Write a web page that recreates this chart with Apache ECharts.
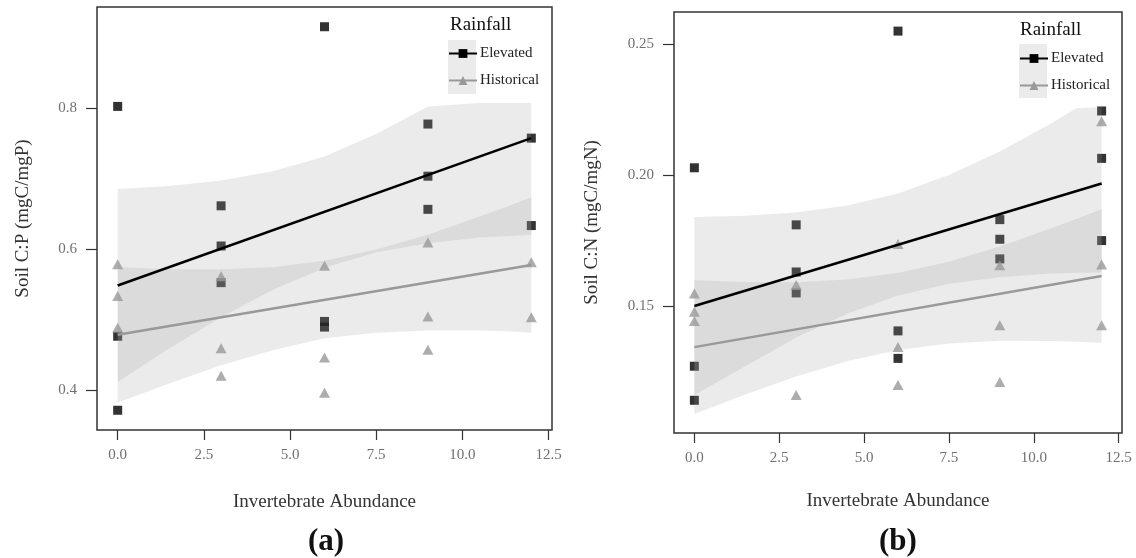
<!DOCTYPE html>
<html>
<head>
<meta charset="utf-8">
<script src="https://cdn.jsdelivr.net/npm/echarts@6/dist/echarts.min.js"></script>
<style>
  html, body { margin: 0; padding: 0; background: #fff; }
  #chart { width: 1136px; height: 558px; }
</style>
</head>
<body>
<div id="chart"></div>
<script>
// tick labels
const xTicks = [0, 2.5, 5, 7.5, 10, 12.5];
const cpTicks = [0.4, 0.6, 0.8];
const cnTicks = [0.15, 0.20, 0.25];

// (a) soil C:P points, [abundance, value]
const cpElevated = [[0, 0.802], [0, 0.476], [0, 0.371], [3, 0.661], [3, 0.604], [3, 0.552],
  [6, 0.915], [6, 0.497], [6, 0.489], [9, 0.777], [9, 0.703], [9, 0.656], [12, 0.757], [12, 0.633]];
const cpHistorical = [[0, 0.578], [0, 0.533], [0, 0.488], [3, 0.561], [3, 0.459], [3, 0.420],
  [6, 0.576], [6, 0.446], [6, 0.396], [9, 0.609], [9, 0.504], [9, 0.457], [12, 0.581], [12, 0.503]];

// (b) soil C:N points
const cnElevated = [[0, 0.2028], [0, 0.127], [0, 0.114], [3, 0.181], [3, 0.163], [3, 0.155],
  [6, 0.255], [6, 0.1405], [6, 0.130], [9, 0.183], [9, 0.1755], [9, 0.168],
  [12, 0.2245], [12, 0.2064], [12, 0.175]];
const cnHistorical = [[0, 0.1548], [0, 0.1478], [0, 0.1443], [3, 0.158], [3, 0.116],
  [6, 0.1737], [6, 0.1343], [6, 0.1198], [9, 0.1656], [9, 0.1427], [9, 0.121],
  [12, 0.2206], [12, 0.1659], [12, 0.1427]];

// fitted lines (ends)
const cpElevatedFit = [[0, 0.548], [12, 0.757]];
const cpHistoricalFit = [[0, 0.478], [12, 0.577]];
const cnElevatedFit = [[0, 0.150], [12, 0.1968]];
const cnHistoricalFit = [[0, 0.1343], [12, 0.1615]];

// confidence bands, read at these abundances
const bandX = [0, 1.5, 3, 4.5, 6, 7.5, 9, 10.5, 11.25, 12];
const cpElevatedLo = [0.411, 0.459, 0.503, 0.542, 0.573, 0.595, 0.608, 0.616, 0.618, 0.620];
const cpElevatedHi = [0.685, 0.689, 0.697, 0.710, 0.731, 0.763, 0.802, 0.807, 0.807, 0.807];
const cpHistoricalLo = [0.382, 0.409, 0.435, 0.456, 0.473, 0.481, 0.484, 0.484, 0.483, 0.481];
const cpHistoricalHi = [0.574, 0.571, 0.571, 0.574, 0.583, 0.599, 0.620, 0.646, 0.659, 0.673];
const cnElevatedLo = [0.116, 0.127, 0.138, 0.147, 0.154, 0.1585, 0.161, 0.1624, 0.1627, 0.1628];
const cnElevatedHi = [0.184, 0.1845, 0.1857, 0.1884, 0.193, 0.200, 0.209, 0.2196, 0.2255, 0.226];
const cnHistoricalLo = [0.1088, 0.1162, 0.1231, 0.1289, 0.1332, 0.1357, 0.1367, 0.1366, 0.1364, 0.136];
const cnHistoricalHi = [0.1598, 0.1592, 0.1591, 0.1601, 0.1626, 0.1669, 0.1727, 0.1796, 0.1832, 0.187];

const FONT = 'Liberation Serif';
const chart = echarts.init(document.getElementById('chart'));

function xAxis(gi, gap) {
  return {
    type: 'value', gridIndex: gi, min: -0.6, max: 12.6,
    axisLine: { show: false, onZero: false },
    axisTick: { show: true, length: 10, customValues: xTicks, lineStyle: { color: '#333', width: 1.2 } },
    axisLabel: { customValues: xTicks, formatter: v => v.toFixed(1), margin: 18,
      color: '#707070', fontSize: 15, fontFamily: FONT },
    splitLine: { show: false },
    name: 'Invertebrate Abundance', nameLocation: 'middle', nameGap: gap,
    nameTextStyle: { color: '#333', fontSize: 19, fontFamily: FONT }
  };
}

function yAxis(gi, min, max, ticks, digits, title, gap) {
  return {
    type: 'value', gridIndex: gi, min: min, max: max,
    axisLine: { show: false, onZero: false },
    axisTick: { show: true, length: 11, customValues: ticks, lineStyle: { color: '#333', width: 1.2 } },
    axisLabel: { customValues: ticks, formatter: v => v.toFixed(digits), margin: 20,
      color: '#707070', fontSize: 15, fontFamily: FONT },
    splitLine: { show: false },
    name: title, nameLocation: 'middle', nameGap: gap, nameRotate: 90,
    nameTextStyle: { color: '#333', fontSize: 19, fontFamily: FONT }
  };
}

function points(gi, data, shape) {
  const square = shape === 'rect';
  return {
    type: 'scatter', xAxisIndex: gi, yAxisIndex: gi, data: data, z: 2, silent: true,
    symbol: shape, symbolSize: square ? 9 : [11, 10],
    itemStyle: { color: square ? '#000' : '#999' }
  };
}

function band(gi, lo, hi) {
  return {
    type: 'custom', xAxisIndex: gi, yAxisIndex: gi, z: 3, silent: true,
    data: bandX.map((x, i) => [x, lo[i], hi[i]]),
    encode: { x: 0, y: [1, 2] },
    renderItem: function (params, api) {
      if (params.dataIndex !== 0) return null;
      const pts = [];
      for (let i = 0; i < bandX.length; i++) pts.push(api.coord([bandX[i], hi[i]]));
      for (let i = bandX.length - 1; i >= 0; i--) pts.push(api.coord([bandX[i], lo[i]]));
      return { type: 'polygon', shape: { points: pts }, style: { fill: 'rgba(153,153,153,0.2)' } };
    }
  };
}

function fit(gi, name, data, color, shape) {
  return {
    type: 'line', name: name, xAxisIndex: gi, yAxisIndex: gi, data: data, z: 4, silent: true,
    symbol: shape, showSymbol: false,
    lineStyle: { color: color, width: 2.5 }, itemStyle: { color: color }
  };
}

function legend(left, top) {
  return {
    left: left, top: top, orient: 'vertical', data: ['Elevated', 'Historical'],
    padding: 0, itemWidth: 28, itemHeight: 11, itemGap: 12, selectedMode: false,
    textStyle: { fontFamily: FONT, fontSize: 15, color: '#222', padding: [0, 0, 0, -2] }
  };
}

function text(left, top, str, size, bold) {
  return {
    type: 'text', left: left, top: top,
    style: { text: str, fill: '#111', font: (bold ? 'bold ' : '') + size + 'px "' + FONT + '"' }
  };
}

const option = {
  animation: false,
  backgroundColor: '#fff',
  grid: [
    { left: 97, top: 7, width: 455, height: 423, show: true, borderColor: '#333', borderWidth: 1.5 },
    { left: 674, top: 12, width: 448, height: 421, show: true, borderColor: '#333', borderWidth: 1.5 }
  ],
  xAxis: [xAxis(0, 63), xAxis(1, 59)],
  yAxis: [
    yAxis(0, 0.343, 0.943, cpTicks, 1, 'Soil C:P (mgC/mgP)', 64),
    yAxis(1, 0.1015, 0.2623, cnTicks, 2, 'Soil C:N (mgC/mgN)', 72)
  ],
  legend: [legend(448, 46), legend(1019, 51)],
  graphic: [
    { type: 'rect', left: 448, top: 40, shape: { width: 28, height: 54 }, style: { fill: '#ebebeb' } },
    { type: 'rect', left: 1019, top: 44, shape: { width: 28, height: 54 }, style: { fill: '#ebebeb' } },
    text(450, 16, 'Rainfall', 19),
    text(1020, 21, 'Rainfall', 19),
    text(308, 526, '(a)', 31, true),
    text(879, 526, '(b)', 31, true)
  ],
  series: [
    points(0, cpElevated, 'rect'),
    points(0, cpHistorical, 'triangle'),
    band(0, cpElevatedLo, cpElevatedHi),
    band(0, cpHistoricalLo, cpHistoricalHi),
    fit(0, 'Elevated', cpElevatedFit, '#000', 'rect'),
    fit(0, 'Historical', cpHistoricalFit, '#999', 'triangle'),
    points(1, cnElevated, 'rect'),
    points(1, cnHistorical, 'triangle'),
    band(1, cnElevatedLo, cnElevatedHi),
    band(1, cnHistoricalLo, cnHistoricalHi),
    fit(1, 'Elevated', cnElevatedFit, '#000', 'rect'),
    fit(1, 'Historical', cnHistoricalFit, '#999', 'triangle')
  ]
};

chart.setOption(option);
window.addEventListener('resize', chart.resize);
</script>
</body>
</html>
